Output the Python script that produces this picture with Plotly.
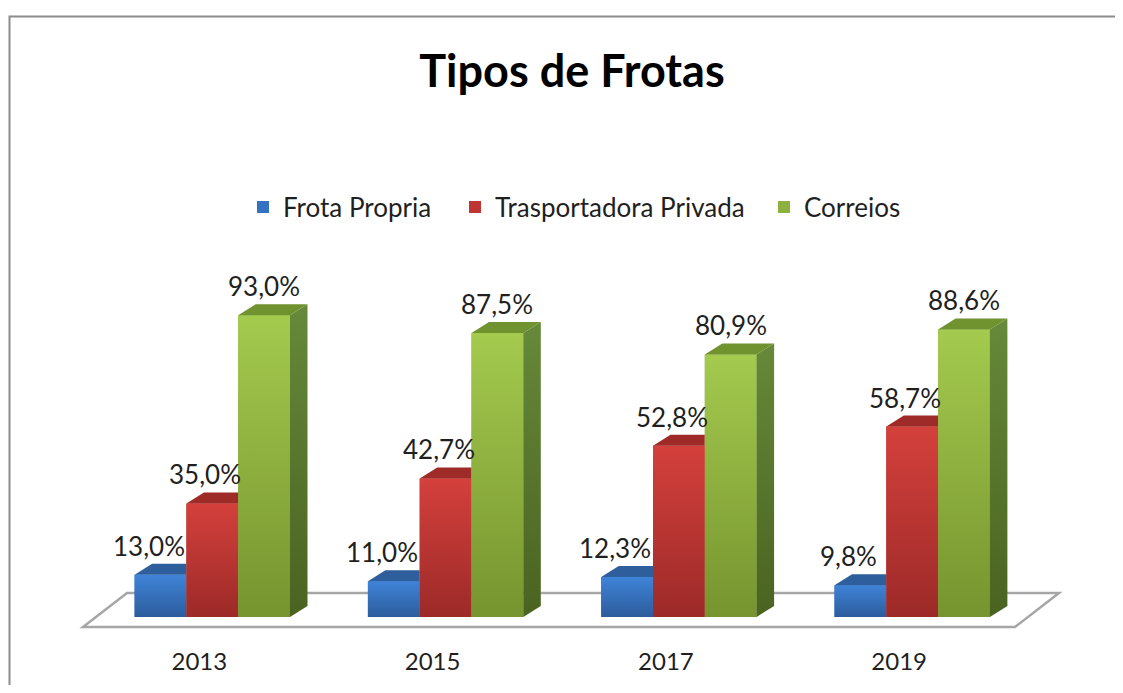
import plotly.graph_objects as go

# ---------------- data ----------------
years = ["2013", "2015", "2017", "2019"]
series_names = ["Frota Propria", "Trasportadora Privada", "Correios"]
frota_propria = [13.0, 11.0, 12.3, 9.8]
transportadora_privada = [35.0, 42.7, 52.8, 58.7]
correios = [93.0, 87.5, 80.9, 88.6]
series_values = [frota_propria, transportadora_privada, correios]

# ---------------- styles ----------------
front_mid = ["#3672c2", "#bd3633", "#8db040"]
front_top = ["#3f83d8", "#d4403c", "#a4ca4e"]
front_bot = ["#2c5c9c", "#9c2a28", "#76942f"]
top_colors = ["#2e5f9c", "#9e2b28", "#70922f"]
side_top = ["#2a5590", "#8e2724", "#66893a"]
side_bot = ["#23477a", "#7a211f", "#4a6321"]
FONT = "Lato"
TEXT_COLOR = "#1f1f1f"

# ---------------- geometry (pixel layout of the 3D look) ----------------
OFF = 8                               # page body margin of the html page
W, H = 1123 - 2 * OFF, 693 - 2 * OFF  # figure fits the window
PLOT_BOTTOM_PX = 640 - OFF            # bottom of the plot area inside the figure
GROUP0_PX, GROUP_STEP_PX = 212.3 - OFF, 233.3
BASE_PX, PX_PER_PCT = 617.0 - OFF, 3.245
BAR_W = 51.8 / GROUP_STEP_PX
DX = 17.5 / GROUP_STEP_PX             # depth offset in x data units
DY = 11.0 / PX_PER_PCT                # depth offset in y data units

x_range = [(0 - GROUP0_PX) / GROUP_STEP_PX, (W - GROUP0_PX) / GROUP_STEP_PX]
y_range = [(BASE_PX - PLOT_BOTTOM_PX) / PX_PER_PCT, (BASE_PX - 0) / PX_PER_PCT]


def px_to_x(px):
    return (px - OFF - GROUP0_PX) / GROUP_STEP_PX


def py_to_y(py):
    return (BASE_PX - (py - OFF)) / PX_PER_PCT


def paper_x(px):
    return (px - OFF) / W


def paper_y(py):
    return 1 - (py - OFF) / PLOT_BOTTOM_PX


def container_y(py):
    return 1 - (py - OFF) / H


x_pos = list(range(len(years)))
offsets = [-1.5 * BAR_W, -0.5 * BAR_W, 0.5 * BAR_W]
label_xshift = [-12, -7, 0]
legend_ids = ["legend", "legend2", "legend3"]
legend_symbol_left_px = [257, 469, 778]

fig = go.Figure()

# front faces: real bars (also carry the legend)
for s, vals in enumerate(series_values):
    fig.add_trace(go.Bar(
        x=x_pos, y=vals, name=series_names[s],
        width=BAR_W, offset=offsets[s], legend=legend_ids[s],
        marker=dict(color=front_mid[s], line=dict(width=0)),
        hoverinfo="x+y+name",
    ))

# shading of each bar: gradient front, top face, side face (visible parts only)
for s, vals in enumerate(series_values):
    last = s == len(series_values) - 1
    tx, ty = [], []
    for i, v in enumerate(vals):
        x0 = x_pos[i] + offsets[s]
        x1 = x0 + BAR_W
        fig.add_trace(go.Scatter(
            x=[x0, x1, x1, x0, x0], y=[0, 0, v, v, 0], mode="lines",
            fill="toself", line=dict(width=0),
            fillgradient=dict(type="vertical",
                              colorscale=[[0, front_bot[s]], [1, front_top[s]]]),
            showlegend=False, hoverinfo="skip"))
        if last:
            tx += [x0, x1, x1 + DX, x0 + DX, x0, None]
            ty += [v, v, v + DY, v + DY, v, None]
            fig.add_trace(go.Scatter(
                x=[x1, x1 + DX, x1 + DX, x1, x1], y=[0, DY, v + DY, v, 0],
                mode="lines", fill="toself", line=dict(width=0),
                fillgradient=dict(type="vertical",
                                  colorscale=[[0, side_bot[s]], [1, side_top[s]]]),
                showlegend=False, hoverinfo="skip"))
        else:
            tx += [x0, x1, x1, x0 + DX, x0, None]
            ty += [v, v, v + DY, v + DY, v, None]
    fig.add_trace(go.Scatter(x=tx, y=ty, mode="lines", fill="toself",
                             fillcolor=top_colors[s], line=dict(width=0),
                             showlegend=False, hoverinfo="skip"))

# data labels
for s, vals in enumerate(series_values):
    for i, v in enumerate(vals):
        fig.add_annotation(
            x=x_pos[i] + offsets[s] + BAR_W / 2, y=v,
            text=f"{v:.1f}".replace(".", ",") + "%",
            showarrow=False, yshift=29, xshift=label_xshift[s],
            font=dict(family=FONT, size=26, color=TEXT_COLOR),
        )

# floor plate (below the bars)
floor = [(83, 627), (1015, 627), (1059, 593), (127, 593)]
path = "M " + " L ".join(f"{px_to_x(a):.5f},{py_to_y(b):.5f}" for a, b in floor) + " Z"
fig.add_shape(type="path", path=path, xref="x", yref="y", layer="below",
              fillcolor="white", line=dict(color="#a6a6a6", width=2.5))

# outer chart frame: only the top and left edges are inside the picture
frame_path = (f"M {paper_x(1160):.5f},{paper_y(16.5):.5f} "
              f"L {paper_x(9.5):.5f},{paper_y(16.5):.5f} "
              f"L {paper_x(9.5):.5f},{paper_y(740):.5f}")
fig.add_shape(type="path", path=frame_path, xref="paper", yref="paper",
              line=dict(color="#8c8c8c", width=2), layer="below")

legend_common = dict(orientation="h", xanchor="left", yanchor="middle",
                     y=paper_y(207),
                     font=dict(family=FONT, size=26, color=TEXT_COLOR),
                     bgcolor="rgba(0,0,0,0)", borderwidth=0)

fig.update_layout(
    width=W, height=H,
    margin=dict(l=0, r=0, t=0, b=H - PLOT_BOTTOM_PX, autoexpand=False),
    paper_bgcolor="white", plot_bgcolor="rgba(0,0,0,0)",
    barmode="overlay",
    title=dict(text="<b>Tipos de Frotas</b>", x=paper_x(572), xanchor="center",
               y=container_y(71), yanchor="middle",
               font=dict(family=FONT, size=45, color="#000000")),
    legend=dict(x=paper_x(legend_symbol_left_px[0] - 14), **legend_common),
    legend2=dict(x=paper_x(legend_symbol_left_px[1] - 14), **legend_common),
    legend3=dict(x=paper_x(legend_symbol_left_px[2] - 14), **legend_common),
    xaxis=dict(range=x_range, tickvals=x_pos, ticktext=years,
               showgrid=False, zeroline=False, showline=False, ticks="",
               tickfont=dict(family=FONT, size=24, color=TEXT_COLOR),
               ticklabelshift=-13, ticklabelstandoff=5, fixedrange=True),
    yaxis=dict(range=y_range, visible=False, showgrid=False, zeroline=False,
               fixedrange=True),
    showlegend=True,
)

fig.write_html("out.html")
